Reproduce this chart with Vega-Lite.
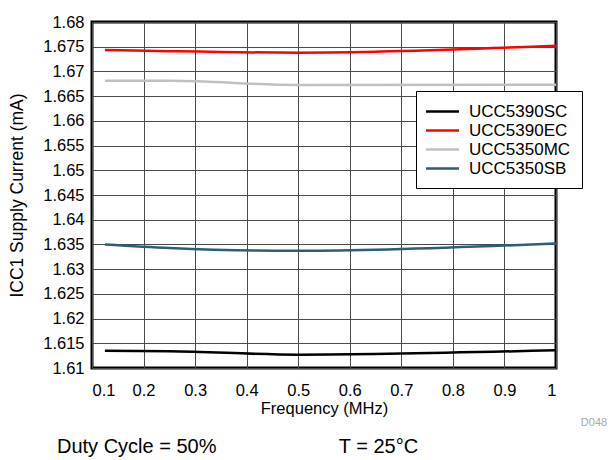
{
  "$schema": "https://vega.github.io/schema/vega-lite/v6.json",
  "width": 464,
  "height": 346,
  "autosize": {"type": "none"},
  "padding": {"left": 92, "top": 22, "right": 55, "bottom": 92},
  "background": "white",
  "title": {
    "text": "Duty Cycle = 50%\u00a0\u00a0\u00a0\u00a0\u00a0\u00a0\u00a0\u00a0\u00a0\u00a0\u00a0\u00a0\u00a0\u00a0\u00a0\u00a0\u00a0\u00a0\u00a0\u00a0\u00a0\u00a0T = 25°C",
    "orient": "bottom",
    "anchor": "start",
    "frame": "group",
    "dx": -35,
    "offset": 9,
    "fontSize": 20,
    "font": "Liberation Sans",
    "fontWeight": "normal",
    "color": "black"
  },
  "config": {
    "view": {"stroke": "black", "strokeWidth": 3},
    "axis": {
      "grid": true,
      "gridColor": "#4a4a4a",
      "gridWidth": 1,
      "gridOpacity": 1,
      "domain": false,
      "ticks": false,
      "labelOverlap": false,
      "labelSeparation": 0,
      "labelFont": "Liberation Sans",
      "labelFontSize": 16.5,
      "labelColor": "black",
      "titleFont": "Liberation Sans",
      "titleFontWeight": "normal",
      "titleColor": "black"
    }
  },
  "data": {
    "values": [
      {"series": "UCC5390SC", "freq": 0.125, "icc": 1.6135},
      {"series": "UCC5390SC", "freq": 0.25, "icc": 1.6134},
      {"series": "UCC5390SC", "freq": 0.5, "icc": 1.6127},
      {"series": "UCC5390SC", "freq": 1, "icc": 1.6136},
      {"series": "UCC5390EC", "freq": 0.125, "icc": 1.67435},
      {"series": "UCC5390EC", "freq": 0.25, "icc": 1.6741},
      {"series": "UCC5390EC", "freq": 0.5, "icc": 1.6738},
      {"series": "UCC5390EC", "freq": 1, "icc": 1.6752},
      {"series": "UCC5350MC", "freq": 0.125, "icc": 1.6681},
      {"series": "UCC5350MC", "freq": 0.25, "icc": 1.6681},
      {"series": "UCC5350MC", "freq": 0.5, "icc": 1.66725},
      {"series": "UCC5350MC", "freq": 1, "icc": 1.6673},
      {"series": "UCC5350SB", "freq": 0.125, "icc": 1.635},
      {"series": "UCC5350SB", "freq": 0.25, "icc": 1.6343},
      {"series": "UCC5350SB", "freq": 0.5, "icc": 1.6337},
      {"series": "UCC5350SB", "freq": 1, "icc": 1.6352}
    ]
  },
  "layer": [
    {
      "mark": {"type": "line", "strokeWidth": 2.5, "interpolate": "monotone"},
      "encoding": {
        "x": {
          "field": "freq",
          "type": "quantitative",
          "scale": {"domain": [0.1, 1], "nice": false, "zero": false},
          "axis": {
            "values": [0.1, 0.2, 0.3, 0.4, 0.5, 0.6, 0.7, 0.8, 0.9, 1],
            "format": "~g",
            "labelOverlap": false,
            "labelPadding": 14,
            "title": "Frequency (MHz)",
            "titleFontSize": 16.5,
            "titlePadding": 2
          }
        },
        "y": {
          "field": "icc",
          "type": "quantitative",
          "scale": {"domain": [1.61, 1.68], "nice": false, "zero": false},
          "axis": {
            "values": [1.61, 1.615, 1.62, 1.625, 1.63, 1.635, 1.64, 1.645, 1.65, 1.655, 1.66, 1.665, 1.67, 1.675, 1.68],
            "tickCount": 15,
            "labelExpr": "format(datum.value, '.4~f')",
            "labelOverlap": false,
            "labelSeparation": 0,
            "labelPadding": 8,
            "title": "ICC1 Supply Current (mA)",
            "titleFontSize": 17.5,
            "titleX": -75,
            "titleY": 173,
            "titleAngle": -90,
            "titleBaseline": "middle",
            "titleAlign": "center"
          }
        },
        "color": {
          "field": "series",
          "type": "nominal",
          "scale": {
            "domain": ["UCC5390SC", "UCC5390EC", "UCC5350MC", "UCC5350SB"],
            "range": ["#000000", "#ff0000", "#c0c0c0", "#2c5e78"]
          },
          "legend": {
            "orient": "none",
            "legendX": 324,
            "legendY": 69,
            "title": null,
            "strokeColor": "black",
            "fillColor": "white",
            "padding": 11,
            "symbolType": "M-2,0H2",
            "symbolSize": 272,
            "symbolStrokeWidth": 2.5,
            "symbolOffset": 6,
            "labelFont": "Liberation Sans",
            "labelFontSize": 17,
            "labelColor": "black",
            "labelOffset": 17,
            "labelExpr": "datum.label + '\u00a0'",
            "rowPadding": 1,
            "labelBaseline": "middle"
          }
        }
      }
    },
    {
      "data": {"values": [{"label": "D048"}]},
      "mark": {"type": "text", "font": "Liberation Sans", "fontSize": 11, "color": "#a8a8a8", "align": "center", "baseline": "middle", "dx": 38, "dy": 55},
      "encoding": {
        "text": {"field": "label"},
        "x": {"datum": 1, "type": "quantitative"},
        "y": {"datum": 1.61, "type": "quantitative"}
      }
    }
  ]
}
